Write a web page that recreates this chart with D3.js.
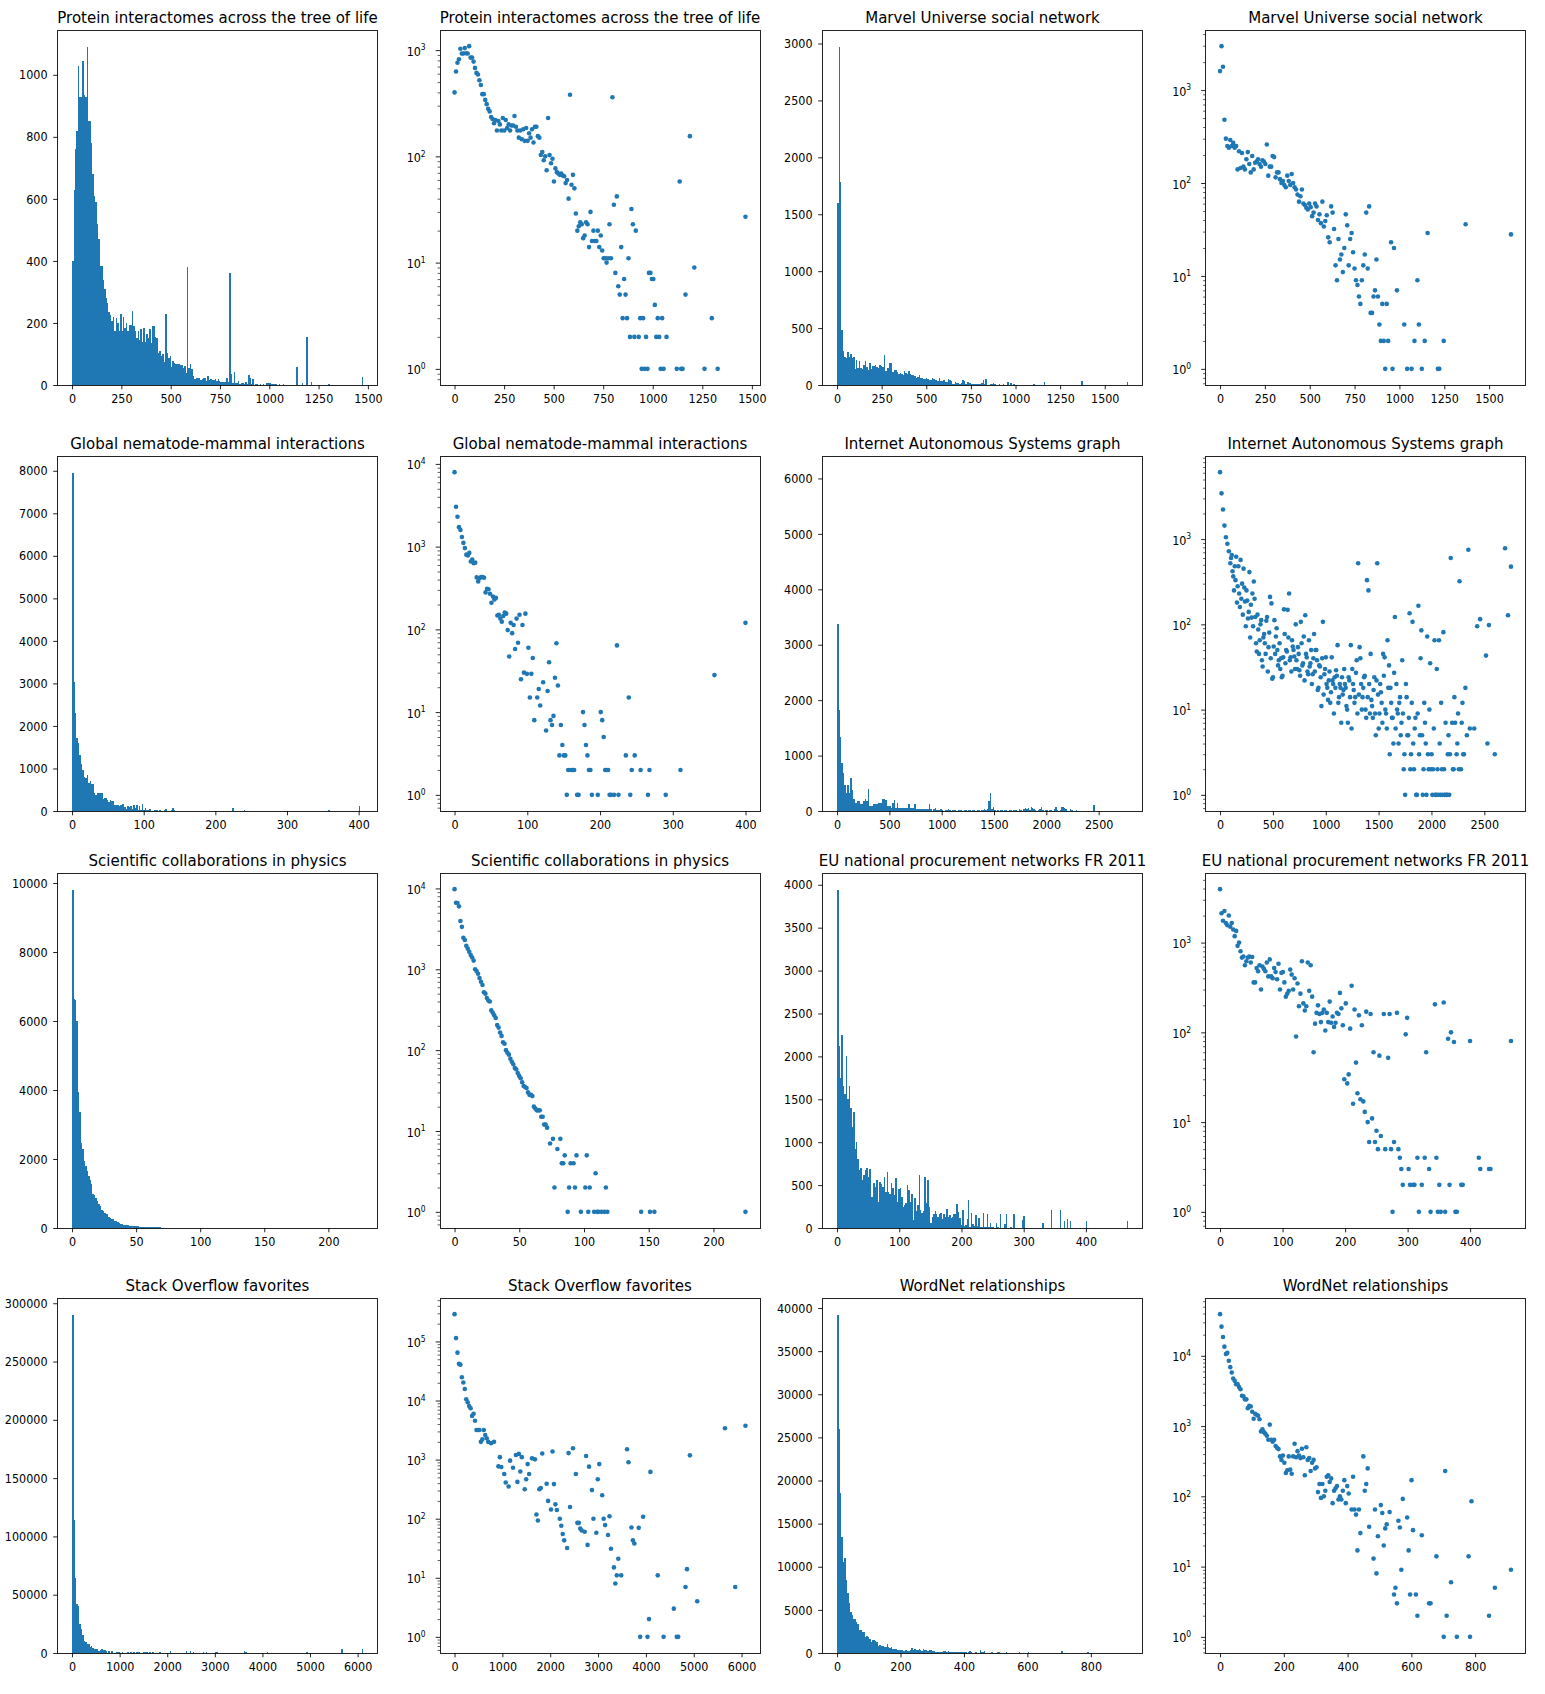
<!DOCTYPE html>
<meta charset="utf-8">
<style>
  body { margin: 0; background: #fff; }
  .title {
    font-family: "DejaVu Sans";
    font-size: 15px;
    fill: #000;
    text-anchor: middle;
  }
</style>
<script src="https://d3js.org/d3.v7.min.js" charset="utf-8"></script>
<body>
<script>

  var W = 1545, H = 1694;
  var NBINS = 200;

  // ---- data: counts per bin (head = bins 0..n, tail = [bin, count] pairs) ----
  var proteinBin = 7.375;
  var proteinHead = [400,630,760,820,1030,930,930,1045,935,930,
    1090,850,850,780,680,610,590,520,470,385,
    385,340,310,280,265,235,225,205,220,175,
    215,200,175,230,175,220,185,200,175,195,
    195,240,190,175,150,175,145,180,140,185,
    140,165,150,180,135,190,190,155,150,103,
    110,92,100,74,230,103,86,95,58,77,
    71,69,67,69,66,65,56,60,40,380,
    54,67,50,29,20,22,24,23,17,18,
    24,23,14,30,16,20,16,16,20,14,
    18,13,11,11,10,11,23,11,360,35,
    8,42,6,5,14,3,7,5,3,11,
    2,32,23,2,20];
  var proteinTail = [[126,2],[127,3],[128,1],[129,3],[130,1],[131,2],[132,1],[133,8],[134,8],
    [135,7],[136,7],[137,4],[138,2],[139,3],[140,2],[141,1],[142,3],[143,1],[145,2],[152,1],
    [154,58],[155,1],[156,1],[158,5],[161,155],[164,9],[171,1],[176,3],[180,1],[199,27]];

  var marvelBin = 8.15;
  var marvelHead = [1600,2970,1780,480,300,250,240,290,250,270,
    240,250,140,220,145,210,150,140,180,215,
    160,130,195,140,165,170,180,160,150,175,
    170,160,260,120,150,150,195,190,115,130,
    130,110,100,105,95,90,120,105,95,125,
    100,90,85,75,63,72,85,60,58,54,
    52,60,55,44,48,60,56,40,46,37,
    63,34,39,45,26,23,56,48,32,13,
    9,25,15,17,11,20,46,35,13,25,
    29,18,12,9,8,6,5,9,13,17,
    48,12,56,4,4,6,7,15,6,3,
    2,5,2,1,5,2,0,23,1,20,
    0,7];
  var marvelTail = [[126,3],[128,1],[131,1],[133,2],[135,9],[136,3],[138,1],[140,2],[142,29],
    [149,1],[150,1],[153,2],[168,36],[199,28]];

  var nematodeBin = 2.03;
  var nematodeHead = [7950,3030,2300,1720,1590,1310,1110,960,800,780,
    840,660,700,630,640,425,380,415,430,430,
    420,280,310,305,270,210,250,230,240,147,
    150,135,124,145,160,155,98,47,120,90,
    113,58,135,69,150,25,113,30,155,29,
    60,15,29,45,8,0,15,19,12,0,
    23,0,6,18,40,8,7,9,26,68,
    21,3,7,4,3,3,1,2,0,2,
    2,2,0,1,1,0,0,10,7,4,
    3,2,2,1];
  var nematodeTail = [[97,1],[99,10],[100,8],[101,5],[102,2],[103,2],[104,2],[105,1],[106,1],
    [108,1],[110,64],[111,1],[116,3],[118,15],[119,1],[120,2],[122,3],[126,2],[131,1],[132,2],
    [143,1],[153,2],[176,28],[197,120]];

  var asBin = 13.9;
  var asHead = [6100,3440,2220,1440,1050,880,720,520,650,365,
    480,620,280,230,570,300,450,185,250,117,
    410,170,230,318,122,48,87,65,112,32,
    77,45,122,54,210,176,24,112,72,50,
    38,30,24,41,77,50,148,230,41,65,
    50,30,38,54,29,107,33,72,128,41,
    26,32,50,26,77,50,38,18,32,11,
    107,26,41,18,22,12,41,20,24,29,
    57,14,18,24,17,20,11,7,22,57,
    30,17,14,38,520,54,20,14,24,10,
    330,250,9,13,8,24,5,520,6,20,
    12,45,41,9,65,33,18,8,4,122,
    20,9,12,5,38,2,1,14,5,135,
    3,107,2,8,1,165,5,85,1,12,
    4,72,2,35,3,2,65,1,2,65,
    1,2,81,1,1,3,1,600,7,2,
    7,3,9,320,2,12,3,18,5,750,
    6,0,0,6,0,95,0,115,0,0,
    0,43,4,98,0,0,0,3,0,0,
    0,0,0,0,780,0,128,0,475,0];
  // points between bin edges that the scatter shows as well
  var asTail = [[7.5,600],[8.5,420],[9.5,250],[10.5,330],[11.5,180],[12.5,480],[13.5,160],
    [14.5,200],[15.5,130],[16.5,270],[17.5,95],[18.5,190],[19.5,140],[20.5,70],[21.5,120],
    [22.5,95],[23.5,200],[24.5,60],[25.5,130],[26.5,45],[27.5,100],[28.5,38],[29.5,70],
    [30.5,60],[31.5,110],[32.5,28],[33.5,80],[34.5,40],[35.5,23],[36.5,55],
    [37.5,45],[38.5,90],[39.5,33],[40.5,60],[41.5,40],[42.5,25],[43.5,150],[44.5,35],
    [45.5,48],[46.5,70],[47.5,38],[48.5,28],[49.5,55],[50.5,42],[51.5,100],[52.5,30],
    [53.5,45],[54.5,25],[55.5,60],[56.5,35],[57.5,22],[58.5,45],[59.5,28],[60.5,65],
    [61.5,35],[62.5,20],[63.5,40],[64.5,28],[65.5,50],[66.5,17],[67.5,33],[68.5,24],
    [69.5,40],[70.5,15],[71.5,30],
    [72.5,20],[73.5,13],[74.5,28],[75.5,16],[76.5,22],[77.5,9],[78.5,18],[79.5,25],
    [80.5,12],[81.5,20],[82.5,7],[83.5,15],[84.5,30],[85.5,18],[86.5,10],[87.5,24],
    [88.5,14],[89.5,6],[90.5,20],[91.5,12],[92.5,27],[93.5,9],[94.5,15],[95.5,40],
    [96.5,10],[97.5,18],[98.5,25],[99.5,8],[100.5,14],[101.5,20],[102.5,45],[103.5,11],
    [104.5,17],[105.5,9],[106.5,22],[107.5,15],
    [108.5,9],[109.5,16],[110.5,7],[111.5,25],[112.5,10],[113.5,6],[114.5,18],[115.5,3],
    [116.5,12],[117.5,8],[118.5,27],[119.5,6],[120.5,10],[121.5,4],[122.5,14],[123.5,7],
    [124.5,9],[125.5,3],[126.5,20],[127.5,5],[128.5,8],[129.5,2],[130.5,12],[131.5,4],
    [132.5,6],[133.5,1],[134.5,9],[135.5,3],[136.5,40],[137.5,5],[138.5,2],[139.5,7],
    [140.5,1],[141.5,3],[142.5,10],[143.5,2],
    [144.5,1],[145.5,6],[146.5,1],[147.5,30],[148.5,1],[149.5,4],[150.5,12],[151.5,1],
    [152.5,2],[153.5,7],[154.5,1],[155.5,5],[156.5,3],[158.5,2],[159.5,14],[161.5,4],
    [162.5,2],[164.5,7],[165.5,3]];
  // bars the histogram panel shows for the AS graph
  var asHist = [3380,1820,1340,865,685,477,328,477,328,596,
    370,210,150,150,180,180,120,120,180,210,
    180,405,90,90,90,120,120,120,150,150,
    150,210,210,200,90,90,90,60,150,200,
    60,150,60,60,60,48,48,48,48,120,
    48,48,48,120,40,40,40,40,40,40,
    30,40,30,120,30,0,30,60,25,25,
    25,30,25,0,25,25,30,25,0,25,
    20,25,0,20,25,20,0,20,20,0,
    20,25,0,20,20,0,20,25,0,20,
    20,30,25,40,180,330,30,70,20,0,
    20,0,20,25,0,20,20,0,25,20,
    0,20,25,20,0,30,20,0,30,60,
    30,60,25,70,60,30,20,0,25,30,
    70,20,0,25,20,0,20,25,0,30,
    70,20,0,20,70,70,60,30,0,0,
    30,20,0,0,20,0,0,0,0,0,
    0,0,0,0,0,0,100,0,0,0];

  var physicsBin = 1.135;
  var physicsHead = [9800,6650,6600,6000,3950,3350,2450,2300,1950,1800,
    1650,1500,1400,1280,1000,950,880,780,700,640,
    520,500,440,410,400,310,290,270,250,205,
    190,165,150,125,120,100,93,88,78,72,
    67,60,58,52,48,45,40,36,35,34,
    30,28,28,27,20,19,18,18,18,15,
    15,12,12,11];
  var physicsTail = [[65,7],[67,8],[68,2],[70,6],[72,8],[73,4],[74,4],[75,5],[77,1],[78,2],
    [79,4],[81,4],[82,2],[83,5],[86,1],[89,2],[90,5],[91,1],[92,2],[95,1],[96,3],[97,1],
    [98,1],[100,1],[102,1],[103,2],[104,1],[127,1],[133,1],[136,1],[198,1]];

  var euBin = 2.338;
  var euHead = [3940,2120,1750,2250,1650,1560,2000,1500,1650,1400,
    1180,1350,920,1000,800,680,700,560,620,680,
    700,600,690,360,360,520,480,560,300,540,
    510,480,600,420,650,420,400,520,470,390,
    580,300,460,470,360,250,270,290,500,440,
    300,400,90,350,195,270,620,210,175,195,
    600,290,560,250,60,125,165,200,160,130,
    165,180,105,165,130,220,128,150,115,128,
    165,160,275,185,120,30,210,27,34,110,
    330,16,180,46,21,155,18,120,17,13,
    170,10,6,160,11,60,6,8,5,55,
    7,0,160,5,0,52,160,5,1,6,
    0,165,5,4,3,2];
  var euTail = [[127,95],[128,145],[129,3],[130,2],[132,2],[133,2],[135,4],[136,1],[138,2],
    [140,4],[141,60],[143,3],[144,1],[147,205],[148,4],[149,1],[150,2],[151,1],[153,215],
    [154,1],[156,85],[157,2],[158,100],[160,78],[161,1],[162,1],[165,2],[166,2],[171,80],
    [177,4],[178,3],[184,3],[185,3],[199,80]];

  var soBin = 30.56;
  var soHead = [290000,114000,64700,41800,40500,24800,20200,15700,10500,9350,
    8100,7400,5500,5950,4550,3170,3170,3170,2000,2200,
    3170,2600,2300,2000];
  var soTail = [[25,1900],[27,2000],[30,770],[31,1100],[32,750],[34,570],[35,410],[37,350],
    [38,960],[40,730],[42,1200],[43,420],[44,1250],[45,630],[46,1100],[48,315],[49,465],
    [50,840],[51,570],[53,1050],[55,1010],[56,118],[57,93],[58,315],[59,330],[60,1270],
    [63,390],[64,200],[66,143],[67,1370],[68,385],[69,175],[70,140],[72,100],[73,76],
    [74,55],[75,43],[77,32],[78,1290],[79,158],[81,1560],[83,570],[84,85],[85,85],[86,68],
    [87,63],[89,60],[90,1150],[91,36],[92,760],[94,305],[95,100],[97,58],[98,465],[99,840],
    [101,250],[102,100],[103,78],[105,53],[106,110],[107,31],[109,15],[110,8],[111,11],
    [112,21],[114,11],[118,1500],[119,900],[121,71],[122,43],[123,38],[126,70],[127,1],
    [129,108],[132,1],[133,2],[134,620],[139,11],[143,1],[150,3],[152,1],[153,1],[158,7],
    [159,14],[161,1180],[166,4],[185,3400],[192,7],[199,3750]];

  var wordnetBin = 4.585;
  var wordnetHead = [39200,26000,18500,13500,10600,11000,8500,6900,5800,4750,
    4400,3950,3950,3600,3350,2700,2650,2400,2400,1800,
    1950,1900,1600,1270,1500,1450,1400,1250,840,900,
    820,780,730,640,1050,640,600,640,520,490,
    470,370,330,380,300,215,235,370,240,210,
    370,560,360,440,380,350,475,360,200,500,
    330,350,230,300,330,250,260,115,150,95,
    150,100,120,190,200,160,180,80,120,130,
    140,90,100,90,120,170,80,140,110,0,
    65,190,65,55];
  var wordnetTail = [[94,17],[95,65],[96,30],[98,370],[99,120],[100,150],[101,250],[102,37],
    [105,13],[106,65],[107,8],[108,27],[110,75],[111,58],[112,20],[113,35],[114,40],[116,60],
    [119,4],[120,5],[121,3],[122,45],[123,36],[124,9],[125,92],[128,50],[129,17],[130,4],
    [131,170],[132,33],[134,4],[135,2],[138,28],[143,3],[144,3],[148,14],[153,1],[154,230],
    [155,2],[158,6],[162,1],[170,14],[171,1],[172,85],[184,2],[188,5],[199,9]];

  // ---- tick labels ----
  var ticks1500 = [0,250,500,750,1000,1250,1500];
  var ticks400 = [0,100,200,300,400];
  var ticks2500 = [0,500,1000,1500,2000,2500];
  var ticks200 = [0,50,100,150,200];
  var ticks6000 = [0,1000,2000,3000,4000,5000,6000];
  var ticks800 = [0,200,400,600,800];

  var proteinY = [0,200,400,600,800,1000];
  var marvelY = [0,500,1000,1500,2000,2500,3000];
  var nematodeY = [0,1000,2000,3000,4000,5000,6000,7000,8000];
  var asY = [0,1000,2000,3000,4000,5000,6000];
  var physicsY = [0,2000,4000,6000,8000,10000];
  var euY = [0,500,1000,1500,2000,2500,3000,3500,4000];
  var soY = [0,50000,100000,150000,200000,250000,300000];
  var wordnetY = [0,5000,10000,15000,20000,25000,30000,35000,40000];

  var datasets = [
    {title: "Protein interactomes across the tree of life", bin: proteinBin, head: proteinHead, tail: proteinTail, xt: ticks1500, yt: proteinY},
    {title: "Marvel Universe social network", bin: marvelBin, head: marvelHead, tail: marvelTail, xt: ticks1500, yt: marvelY},
    {title: "Global nematode-mammal interactions", bin: nematodeBin, head: nematodeHead, tail: nematodeTail, xt: ticks400, yt: nematodeY},
    {title: "Internet Autonomous Systems graph", bin: asBin, head: asHead, tail: asTail, hist: asHist, xt: ticks2500, yt: asY},
    {title: "Scientific collaborations in physics", bin: physicsBin, head: physicsHead, tail: physicsTail, xt: ticks200, yt: physicsY},
    {title: "EU national procurement networks FR 2011", bin: euBin, head: euHead, tail: euTail, xt: ticks400, yt: euY},
    {title: "Stack Overflow favorites", bin: soBin, head: soHead, tail: soTail, xt: ticks6000, yt: soY},
    {title: "WordNet relationships", bin: wordnetBin, head: wordnetHead, tail: wordnetTail, xt: ticks800, yt: wordnetY}
  ];

  // ---- layout ----
  var BLUE = "#1f77b4";
  var FONT = "DejaVu Sans";
  var colLeft = [57.5, 440, 822.5, 1205.5];
  var rowTop = [30, 456, 873, 1298];
  var PW = 320, PH = 355;
  var TICK = 4.3;
  var LABEL = 11.2, STRETCH = "scale(1,1.15)";

  var svg = d3.select("body").append("svg")
              .attr("width", W)
              .attr("height", H);

  function toBins(head, tail) {
    var out = head.map(function (c, i) { return [i, c]; });
    (tail || []).forEach(function (p) { out.push(p); });
    return out.filter(function (d) { return d[1] > 0; });
  }

  function panel(x0, y0, title) {
    var g = svg.append("g").attr("transform", "translate(" + x0 + "," + y0 + ")");
    g.append("text").attr("class", "title")
      .attr("x", PW / 2).attr("y", -7.3)
      .text(title);
    return g;
  }

  function frame(g) {
    g.append("rect")
      .attr("width", PW).attr("height", PH)
      .attr("fill", "none")
      .attr("stroke", "#000")
      .attr("stroke-width", 0.86)
      .attr("shape-rendering", "crispEdges");
  }

  function styleAxis(a) {
    a.attr("font-family", FONT).attr("font-size", LABEL);
    a.select(".domain").remove();
    a.selectAll(".tick line").attr("stroke", "#000").attr("stroke-width", 0.86);
    a.selectAll(".tick text").attr("fill", "#000").attr("transform", STRETCH);
  }

  function inside(vals, scale) {
    var d = scale.domain();
    return vals.filter(function (v) { return v >= d[0] && v <= d[1]; });
  }

  function xAxis(g, x, vals) {
    var a = g.append("g").attr("transform", "translate(0," + PH + ")")
      .call(d3.axisBottom(x).tickValues(inside(vals, x)).tickSize(TICK).tickPadding(3.66)
        .tickFormat(d3.format("d")));
    styleAxis(a);
  }

  function drawHist(ds, x0, y0) {
    var g = panel(x0, y0, ds.title);
    var pts = toBins(ds.head, ds.tail);
    var bars = ds.hist ? toBins(ds.hist) : pts;
    var span = NBINS * ds.bin;
    var x = d3.scaleLinear().domain([-0.05 * span, 1.05 * span]).range([0, PW]);
    var maxC = Math.max(d3.max(bars, function (d) { return d[1]; }),
                        d3.max(pts, function (d) { return d[1]; }));
    var y = d3.scaleLinear().domain([0, maxC * 1.05]).range([PH, 0]);

    g.selectAll("rect.bar")
      .data(bars)
      .enter()
      .append("rect")
      .attr("class", "bar")
      .attr("x", function (d) { return x(d[0] * ds.bin); })
      .attr("width", function (d) { return x((d[0] + 1) * ds.bin) - x(d[0] * ds.bin); })
      .attr("y", function (d) { return y(d[1]); })
      .attr("height", function (d) { return y(0) - y(d[1]); })
      .attr("fill", BLUE)
      .attr("shape-rendering", "crispEdges");

    xAxis(g, x, ds.xt);
    var a = g.append("g")
      .call(d3.axisLeft(y).tickValues(inside(ds.yt, y)).tickSize(TICK).tickPadding(5.7)
        .tickFormat(d3.format("d")));
    styleAxis(a);
    frame(g);
  }

  function drawScatter(ds, x0, y0) {
    var g = panel(x0, y0, ds.title);
    var pts = toBins(ds.head, ds.tail);
    var xmax = d3.max(pts, function (d) { return d[0]; }) * ds.bin;
    var x = d3.scaleLinear().domain([-0.05 * xmax, 1.05 * xmax]).range([0, PW]);
    var lo = Math.log10(d3.min(pts, function (d) { return d[1]; }));
    var hi = Math.log10(d3.max(pts, function (d) { return d[1]; }));
    var m = 0.05 * (hi - lo);
    var y = d3.scaleLog().domain([Math.pow(10, lo - m), Math.pow(10, hi + m)]).range([PH, 0]);

    g.selectAll("circle")
      .data(pts)
      .enter()
      .append("circle")
      .attr("cx", function (d) { return x(d[0] * ds.bin); })
      .attr("cy", function (d) { return y(d[1]); })
      .attr("r", 2.3)
      .attr("fill", BLUE);

    xAxis(g, x, ds.xt);

    // log ticks: majors at powers of ten, minors at 2..9
    var majors = [], minors = [];
    for (var k = Math.floor(lo - m) - 1; k <= Math.ceil(hi + m) + 1; k++) {
      majors.push(Math.pow(10, k));
      for (var j = 2; j <= 9; j++) minors.push(j * Math.pow(10, k));
    }
    var mi = g.append("g")
      .call(d3.axisLeft(y).tickValues(inside(minors, y)).tickSize(2.4).tickFormat(""));
    styleAxis(mi);
    mi.selectAll(".tick line").attr("stroke-width", 0.64);

    var a = g.append("g")
      .call(d3.axisLeft(y).tickValues(inside(majors, y)).tickSize(TICK).tickPadding(10));
    styleAxis(a);
    a.selectAll(".tick text").each(function (d) {
      var t = d3.select(this).text("10").attr("dy", "4.4px");
      t.append("tspan")
        .attr("dy", "-4.6px")
        .attr("font-size", 7.6)
        .text(Math.round(Math.log10(d)));
    });
    frame(g);
  }

  datasets.forEach(function (ds, i) {
    var row = Math.floor(i / 2), c = (i % 2) * 2;
    drawHist(ds, colLeft[c], rowTop[row]);
    drawScatter(ds, colLeft[c + 1], rowTop[row]);
  });

</script>
</body>
